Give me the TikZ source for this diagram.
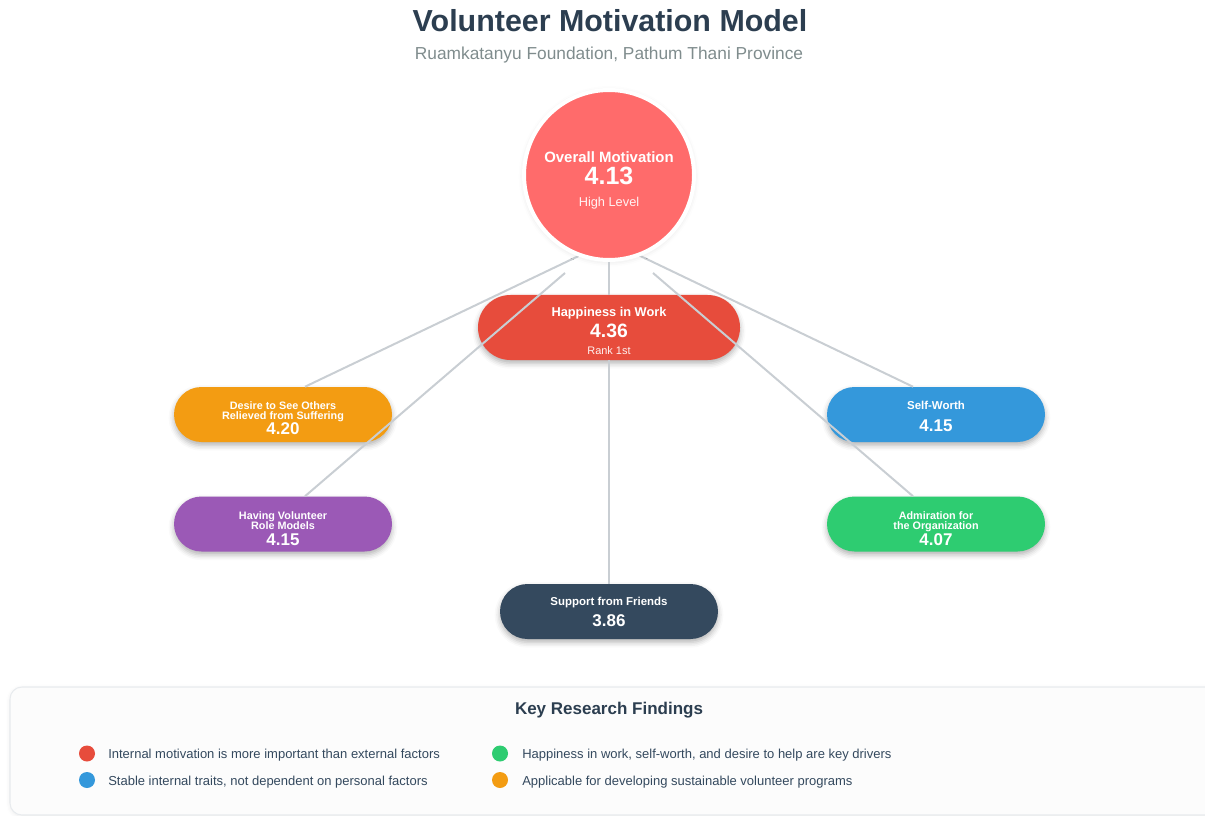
\documentclass[tikz,border=0pt]{standalone}
\usepackage{fontspec}
\setmainfont{Liberation Sans}
\usetikzlibrary{shadows.blur,calc}

\definecolor{titleblue}{HTML}{2C3E50}
\definecolor{subgray}{HTML}{7F8C8D}
\definecolor{coral}{HTML}{FF6B6B}
\definecolor{redpill}{HTML}{E74C3C}
\definecolor{orangepill}{HTML}{F39C12}
\definecolor{purplepill}{HTML}{9B59B6}
\definecolor{bluepill}{HTML}{3498DB}
\definecolor{greenpill}{HTML}{2ECC71}
\definecolor{navypill}{HTML}{34495E}
\definecolor{linkgray}{HTML}{C9CED3}
\definecolor{panelfill}{HTML}{FCFCFC}
\definecolor{panelline}{HTML}{E8EBEE}
\definecolor{bodytext}{HTML}{34495E}

\tikzset{
  softshadow/.style={blur shadow={shadow xshift=0pt, shadow yshift=-2.5pt,
      shadow blur radius=4pt, shadow opacity=30}},
  pill/.style={rectangle, rounded corners=20.6pt, minimum width=163.5pt,
      minimum height=41.25pt, inner sep=0pt, softshadow},
  bigpill/.style={rectangle, rounded corners=24.3pt, minimum width=196.5pt,
      minimum height=48.75pt, inner sep=0pt, softshadow},
  link/.style={draw=linkgray, line width=1.5pt},
  txt/.style={anchor=base, inner sep=0pt, text=white},
  lblsmall/.style={txt, font=\bfseries\fontsize{8.1}{8}\selectfont},
  lblone/.style={txt, font=\bfseries\fontsize{8.6}{9}\selectfont},
  val/.style={txt, font=\bfseries\fontsize{12.75}{13}\selectfont},
  dot/.style={circle, minimum size=12pt, inner sep=0pt},
  finding/.style={anchor=base west, inner sep=0pt, text=bodytext,
      font=\fontsize{9.75}{10}\selectfont},
}

\begin{document}
\begin{tikzpicture}[x=0.75pt, y=-0.75pt]
\useasboundingbox (0,0) rectangle (1205,816);

% heading
\node[anchor=base, inner sep=0pt, text=titleblue,
      font=\bfseries\fontsize{22.8}{24}\selectfont] (title) at (610,32) {Volunteer Motivation Model};
\node[anchor=base, inner sep=0pt, text=subgray,
      font=\fontsize{13}{14}\selectfont] (subtitle) at (609,60) {Ruamkatanyu Foundation, Pathum Thani Province};

% factor pills
\node[bigpill, fill=redpill] (happy) at (609,327.5) {};
\node[pill, fill=orangepill] (desire) at (283,414.5) {};
\node[pill, fill=purplepill] (role) at (283,524) {};
\node[pill, fill=bluepill] (selfworth) at (936,414.5) {};
\node[pill, fill=greenpill] (admire) at (936,524) {};
\node[pill, fill=navypill] (support) at (609,611.5) {};

% connectors
\coordinate (dA) at (587,252);
\coordinate (dB) at (565,273);
\coordinate (dC) at (632,252);
\coordinate (dD) at (653,273);
\draw[link] (dA) -- ([xshift=16.5pt]desire.north);
\draw[link] (dB) -- ([xshift=16.5pt]role.north);
\draw[link] (dC) -- ([xshift=-17.25pt]selfworth.north);
\draw[link] (dD) -- ([xshift=-17.25pt]admire.north);

% central score
\node[circle, fill=coral, draw=white, line width=3pt, minimum size=127.5pt,
      inner sep=0pt, blur shadow={shadow xshift=0pt, shadow yshift=-1pt,
      shadow blur radius=4pt, shadow opacity=12}] (overall) at (609,175) {};
\draw[link] (overall.south) -- (happy.north);
\draw[link] (happy.south) -- (support.north);

\node[txt, font=\bfseries\fontsize{11.2}{12}\selectfont] (ovl1) at (609,163) {Overall Motivation};
\node[txt, font=\bfseries\fontsize{18.75}{19}\selectfont] (ovl2) at (609,185) {4.13};
\node[txt, text opacity=0.92, font=\fontsize{9.6}{10}\selectfont] (ovl3) at (609,207) {High Level};

% pill texts
\node[txt, font=\bfseries\fontsize{9.6}{10}\selectfont] (hap1) at (609,316) {Happiness in Work};
\node[txt, font=\bfseries\fontsize{14.5}{15}\selectfont] (hap2) at (609,337) {4.36};
\node[txt, text opacity=0.92, font=\fontsize{8.2}{9}\selectfont] (hap3) at (609,354) {Rank 1st};

\node[lblsmall] (des1) at (283,409) {Desire to See Others};
\node[lblsmall] (des2) at (283,419) {Relieved from Suffering};
\node[val] (des3) at (283,434) {4.20};

\node[lblsmall] (rol1) at (283,519) {Having Volunteer};
\node[lblsmall] (rol2) at (283,529) {Role Models};
\node[val] (rol3) at (283,545) {4.15};

\node[lblone] (sw1) at (936,409) {Self-Worth};
\node[val] (sw2) at (936,431) {4.15};

\node[lblsmall] (adm1) at (936,519) {Admiration for};
\node[lblsmall] (adm2) at (936,529) {the Organization};
\node[val] (adm3) at (936,545) {4.07};

\node[lblone] (sup1) at (609,605) {Support from Friends};
\node[val] (sup2) at (609,626) {3.86};

% findings panel
\draw[draw=panelline, fill=panelfill, line width=0.8pt, rounded corners=9pt,
      blur shadow={shadow xshift=0pt, shadow yshift=-1pt, shadow blur radius=3pt, shadow opacity=8}]
  (10,687) rectangle (1225,815);
\node[anchor=base, inner sep=0pt, text=titleblue,
      font=\bfseries\fontsize{12.75}{14}\selectfont] (kf) at (609,714) {Key Research Findings};

\node[dot, fill=redpill] (b1) at (87,753.5) {};
\node[dot, fill=bluepill] (b2) at (87,780) {};
\node[dot, fill=greenpill] (b3) at (500,753.5) {};
\node[dot, fill=orangepill] (b4) at (500,780) {};
\node[finding] (f1) at (108,758) {Internal motivation is more important than external factors};
\node[finding] (f2) at (108,785) {Stable internal traits, not dependent on personal factors};
\node[finding] (f3) at (522,758) {Happiness in work, self-worth, and desire to help are key drivers};
\node[finding] (f4) at (522,785) {Applicable for developing sustainable volunteer programs};
\end{tikzpicture}
\end{document}
